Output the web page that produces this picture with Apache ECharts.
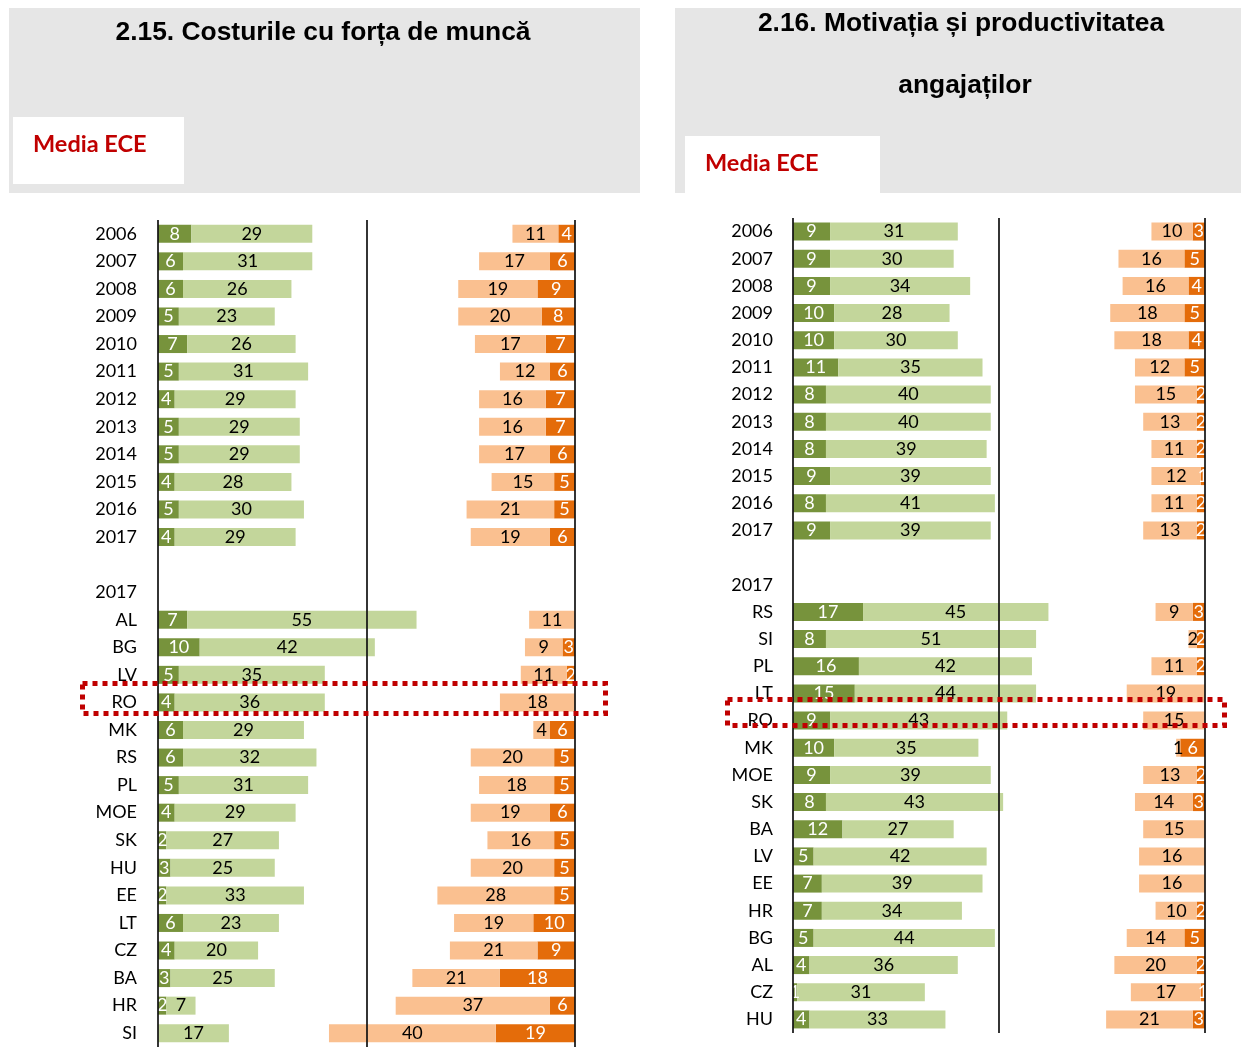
<!DOCTYPE html>
<html>
<head>
<meta charset="utf-8">
<script src="https://cdn.jsdelivr.net/npm/echarts@6/dist/echarts.min.js"></script>
<style>
  html, body { margin: 0; padding: 0; background: #fff; }
  #main { width: 1241px; height: 1047px; }
</style>
</head>
<body>
<div id="main"></div>
<script>
// 2.15 Costurile cu forta de munca
const cats1 = ['2006', '2007', '2008', '2009', '2010', '2011', '2012', '2013', '2014', '2015', '2016', '2017',
  '', '2017', 'AL', 'BG', 'LV', 'RO', 'MK', 'RS', 'PL', 'MOE', 'SK', 'HU', 'EE', 'LT', 'CZ', 'BA', 'HR', 'SI'];
const darkGreen1 = [8, 6, 6, 5, 7, 5, 4, 5, 5, 4, 5, 4, null, null, 7, 10, 5, 4, 6, 6, 5, 4, 2, 3, 2, 6, 4, 3, 2, 0];
const lightGreen1 = [29, 31, 26, 23, 26, 31, 29, 29, 29, 28, 30, 29, null, null, 55, 42, 35, 36, 29, 32, 31, 29, 27, 25, 33, 23, 20, 25, 7, 17];
const lightOrange1 = [11, 17, 19, 20, 17, 12, 16, 16, 17, 15, 21, 19, null, null, 11, 9, 11, 18, 4, 20, 18, 19, 16, 20, 28, 19, 21, 21, 37, 40];
const darkOrange1 = [4, 6, 9, 8, 7, 6, 7, 7, 6, 5, 5, 6, null, null, 0, 3, 2, 0, 6, 5, 5, 6, 5, 5, 5, 10, 9, 18, 6, 19];

// 2.16 Motivatia si productivitatea angajatilor
const cats2 = ['2006', '2007', '2008', '2009', '2010', '2011', '2012', '2013', '2014', '2015', '2016', '2017',
  '', '2017', 'RS', 'SI', 'PL', 'LT', 'RO', 'MK', 'MOE', 'SK', 'BA', 'LV', 'EE', 'HR', 'BG', 'AL', 'CZ', 'HU'];
const darkGreen2 = [9, 9, 9, 10, 10, 11, 8, 8, 8, 9, 8, 9, null, null, 17, 8, 16, 15, 9, 10, 9, 8, 12, 5, 7, 7, 5, 4, 1, 4];
const lightGreen2 = [31, 30, 34, 28, 30, 35, 40, 40, 39, 39, 41, 39, null, null, 45, 51, 42, 44, 43, 35, 39, 43, 27, 42, 39, 34, 44, 36, 31, 33];
const lightOrange2 = [10, 16, 16, 18, 18, 12, 15, 13, 11, 12, 11, 13, null, null, 9, 2, 11, 19, 15, 1, 13, 14, 15, 16, 16, 10, 14, 20, 17, 21];
const darkOrange2 = [3, 5, 4, 5, 4, 5, 2, 2, 2, 1, 2, 2, null, null, 3, 2, 2, 0, 0, 6, 2, 3, 0, 0, 0, 2, 5, 2, 1, 3];

const titles = ['2.15. Costurile cu forța de muncă', '2.16. Motivația și productivitatea', 'angajaților'];
const mediaLabel = 'Media ECE';

const C_DG = '#77933c', C_LG = '#c3d69b', C_LO = '#fac090', C_DO = '#e46c0a';
const FONT = 'Lato, "Open Sans", sans-serif';

const chart = echarts.init(document.getElementById('main'));

function lbl(color) {
  return {
    show: true,
    position: 'inside',
    color: color,
    fontSize: 18,
    fontFamily: FONT,
    formatter: p => (p.value ? p.value : '')
  };
}

function barSeries(name, data, color, labelColor, xIdx, yIdx, stack) {
  return {
    name: name,
    type: 'bar',
    data: data,
    stack: stack,
    xAxisIndex: xIdx,
    yAxisIndex: yIdx,
    barWidth: 18,
    barGap: '-100%',
    itemStyle: { color: color },
    label: lbl(labelColor),
    silent: true,
    animation: false
  };
}

const vLines = {
  silent: true,
  symbol: 'none',
  label: { show: false },
  lineStyle: { color: '#111', type: 'solid', width: 1.7 },
  data: [{ xAxis: 0 }, { xAxis: 50 }, { xAxis: 100 }]
};

const valAxis = (gridIndex, inverse) => ({
  type: 'value', gridIndex: gridIndex, min: 0, max: 100, inverse: inverse, show: false
});

const catAxis = (gridIndex, data, margin) => ({
  type: 'category',
  gridIndex: gridIndex,
  data: data,
  inverse: true,
  axisLine: { show: false },
  axisTick: { show: false },
  splitLine: { show: false },
  axisLabel: { interval: 0, color: '#000', fontSize: 18, fontFamily: FONT, margin: margin }
});

const s1 = barSeries('dg1', darkGreen1, C_DG, '#fff', 0, 0, 'g1');
s1.markLine = vLines;
const s2 = barSeries('dg2', darkGreen2, C_DG, '#fff', 2, 1, 'g2');
s2.markLine = vLines;

chart.setOption({
  animation: false,
  grid: [
    { left: 158, top: 220, width: 417, height: 830 },
    { left: 793, top: 218, width: 412, height: 815 }
  ],
  xAxis: [valAxis(0, false), valAxis(0, true), valAxis(1, false), valAxis(1, true)],
  yAxis: [catAxis(0, cats1, 21), catAxis(1, cats2, 20)],
  series: [
    s1,
    barSeries('lg1', lightGreen1, C_LG, '#000', 0, 0, 'g1'),
    barSeries('do1', darkOrange1, C_DO, '#fff', 1, 0, 'o1'),
    barSeries('lo1', lightOrange1, C_LO, '#000', 1, 0, 'o1'),
    s2,
    barSeries('lg2', lightGreen2, C_LG, '#000', 2, 1, 'g2'),
    barSeries('do2', darkOrange2, C_DO, '#fff', 3, 1, 'o2'),
    barSeries('lo2', lightOrange2, C_LO, '#000', 3, 1, 'o2')
  ]
});

// RO rows, used to anchor the dotted highlight boxes
const roY1 = chart.convertToPixel({ yAxisIndex: 0 }, cats1.indexOf('RO'));
const roY2 = chart.convertToPixel({ yAxisIndex: 1 }, cats2.indexOf('RO'));

const titleFont = 'bold 26.4px "Liberation Sans", Arial, sans-serif';
const mediaFont = 'bold 23.5px ' + FONT;

chart.setOption({
  graphic: [
    { type: 'rect', id: 'bg1', z: -10, shape: { x: 9, y: 8, width: 631, height: 185 }, style: { fill: '#e6e6e6' } },
    { type: 'rect', id: 'bg2', z: -10, shape: { x: 675, y: 8, width: 566, height: 185 }, style: { fill: '#e6e6e6' } },
    { type: 'rect', id: 'wb1', z: -5, shape: { x: 13, y: 117, width: 171, height: 67 }, style: { fill: '#fff' } },
    { type: 'rect', id: 'wb2', z: -5, shape: { x: 685, y: 136, width: 195, height: 59 }, style: { fill: '#fff' } },
    { type: 'text', id: 't1', x: 323, y: 33, style: { text: titles[0], font: titleFont, fill: '#000', align: 'center', verticalAlign: 'middle' } },
    { type: 'text', id: 't2', x: 961, y: 24, style: { text: titles[1], font: titleFont, fill: '#000', align: 'center', verticalAlign: 'middle' } },
    { type: 'text', id: 't3', x: 965, y: 86, style: { text: titles[2], font: titleFont, fill: '#000', align: 'center', verticalAlign: 'middle' } },
    { type: 'text', id: 'm1', x: 33, y: 144, style: { text: mediaLabel, font: mediaFont, fill: '#c00000', align: 'left', verticalAlign: 'middle' } },
    { type: 'text', id: 'm2', x: 705, y: 163, style: { text: mediaLabel, font: mediaFont, fill: '#c00000', align: 'left', verticalAlign: 'middle' } },
    {
      type: 'rect', id: 'ro1', z: 100,
      shape: { x: 82.5, y: roY1 - 19, width: 523, height: 30 },
      style: { fill: 'none', stroke: '#c00000', lineWidth: 5, lineDash: [5, 5] }
    },
    {
      type: 'rect', id: 'ro2', z: 100,
      shape: { x: 727.5, y: roY2 - 21, width: 497, height: 26 },
      style: { fill: 'none', stroke: '#c00000', lineWidth: 5, lineDash: [5, 5] }
    }
  ]
});
</script>
</body>
</html>
